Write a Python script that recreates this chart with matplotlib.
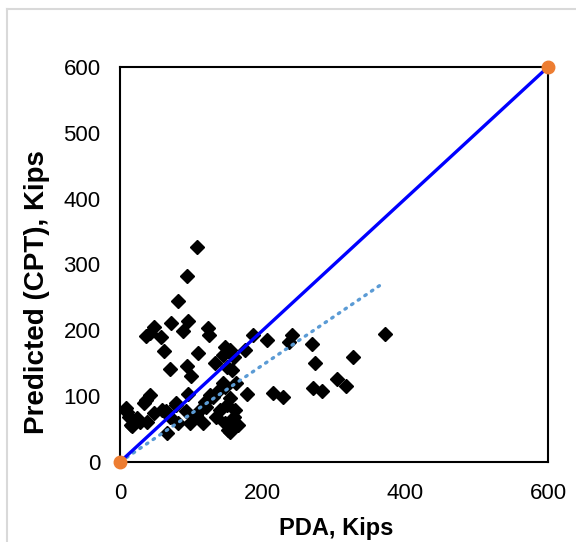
import matplotlib
matplotlib.use("Agg")
import matplotlib.pyplot as plt
import numpy as np
from matplotlib.lines import Line2D

# PDA (measured) vs CPT predicted capacity, kips
pda = [108, 94, 81, 47, 37, 71, 58, 96, 89, 124, 125, 62, 110, 147, 154,
       145, 133, 175, 187, 206, 241, 237, 70, 94, 99, 157, 145, 96, 178, 214,
       228, 269, 273, 304, 317, 271, 283, 326, 371, 150, 160, 42,
       10, 15, 28, 36, 42, 24, 38, 47, 59, 66, 70, 78, 82, 93, 98, 112, 119,
       126, 131, 140, 147, 151, 157, 150, 161, 139, 154, 163, 165, 154, 117,
       121, 79, 147, 8, 12, 17, 33, 64, 134, 160, 107]
cpt = [326, 283, 245, 205, 191, 211, 190, 214, 199, 203, 193, 168, 165, 175, 170,
       163, 150, 170, 193, 186, 193, 183, 142, 146, 130, 140, 120, 104, 103, 105,
       99, 179, 151, 126, 116, 112, 108, 160, 194, 145, 160, 196,
       76, 56, 61, 94, 102, 67, 61, 74, 79, 44, 68, 86, 59, 77, 59, 79, 91,
       102, 99, 79, 59, 49, 61, 87, 79, 109, 97, 120, 56, 46, 59,
       84, 89, 114, 82, 69, 54, 89, 77, 68, 68, 72]
line_ends = [0, 600]

ticks = [0, 200, 400, 600]
yticks = [0, 100, 200, 300, 400, 500, 600]

plt.rcParams['font.family'] = ['Liberation Sans', 'DejaVu Sans']

fig = plt.figure(figsize=(5.76, 5.42), dpi=100)
ax = fig.add_axes([120 / 576, 1 - 462 / 542, 428 / 576, 395 / 542])

x = np.array(pda, dtype=float)
y = np.array(cpt, dtype=float)
slope = np.sum(x * y) / np.sum(x * x)
xt = np.array([0, x.max()])

ax.plot(xt, slope * xt, color='#5B9BD5', lw=2.4, ls=(0, (0.5, 1.9)),
        dash_capstyle='round', zorder=3)
ax.plot(x, y, ls='none', marker='D', ms=7.5, color='black', zorder=2)
ax.plot(line_ends, line_ends, color='#0000FF', lw=2.4, zorder=4)
ax.plot(line_ends, line_ends, ls='none', marker='o', ms=9, color='#ED7D31',
        clip_on=False, zorder=5)

ax.set_xlim(0, 600)
ax.set_ylim(0, 600)
ax.set_xticks(ticks)
ax.set_yticks(yticks)
ax.tick_params(length=0, labelsize=16, colors='black')
ax.tick_params(axis='x', pad=15)
ax.tick_params(axis='y', pad=14)
for s in ax.spines.values():
    s.set_linewidth(1.5)
    s.set_color('black')

fig.text(336 / 576, 1 - 528 / 542, 'PDA, Kips', ha='center', va='center',
         fontsize=17, fontweight='bold')
fig.text(37 / 576, 1 - 292 / 542, 'Predicted (CPT), Kips', ha='center',
         va='center', rotation=90, fontsize=20, fontweight='bold')

# light frame of the original sheet
fig.add_artist(Line2D([7 / 576, 1], [1 - 9 / 542] * 2, color='#D9D9D9', lw=1.5))
fig.add_artist(Line2D([7 / 576] * 2, [0, 1 - 9 / 542], color='#D9D9D9', lw=1.5))

fig.savefig('out.png', dpi=100)
